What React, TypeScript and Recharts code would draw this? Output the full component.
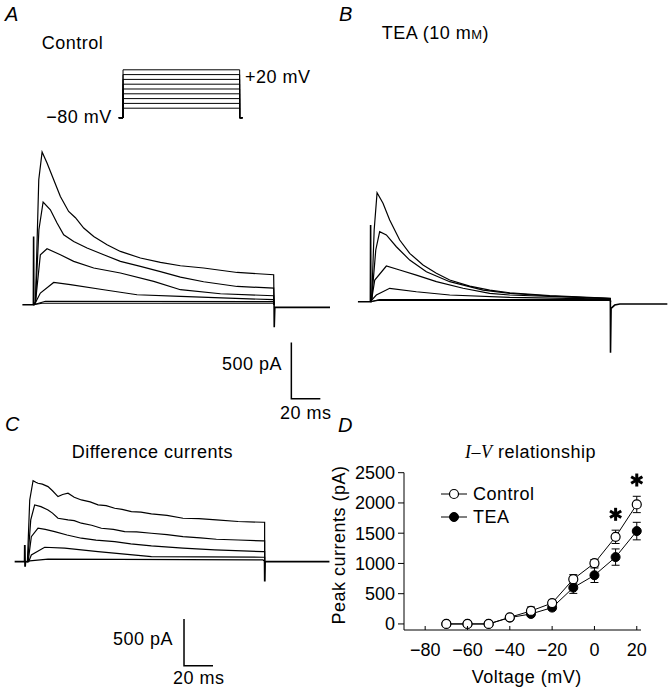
import React from 'react';
import { LineChart, Line, XAxis, YAxis, ErrorBar } from 'recharts';

const FONT = '"Liberation Sans", Arial, Helvetica, sans-serif';
const SERIF = '"Liberation Serif", "Times New Roman", serif';

// ---------- Panel A (Control) traces: [time ms, current pA] ----------
const aTrace1 = [[0,0],[1.4,18],[3.7,1116],[6.0,1363],[9.4,1265],[14.0,1116],[18.6,967],[24.3,833],[29.0,777],[34.7,685],[41.6,610],[50.8,536],[60.0,476],[73.8,417],[87.6,378],[101.4,348],[117.4,328],[140.5,288],[165.7,268],[166,0]];
const aTrace2 = [[0,0],[1.4,18],[3.8,670],[6.7,917],[11.7,848],[16.3,729],[20.9,625],[27.8,565],[37.0,506],[48.5,446],[60.0,387],[73.8,342],[87.6,295],[101.4,246],[117.4,205],[140.5,163],[165.7,149],[166,0]];
const aTrace3 = [[0,0],[1.4,18],[4.8,446],[9.4,500],[18.6,446],[27.8,387],[41.6,328],[60.0,283],[83.0,208],[101.4,134],[129.0,98],[165.7,80],[166,0]];
const aTrace4 = [[0,0],[1.4,18],[4.8,104],[14.0,199],[25.5,179],[48.5,134],[71.5,89],[101.4,74],[165.7,45],[166,0]];
const aTrace5 = [[0,0],[8.3,31],[165.7,27],[166,0]];
const aTrace6 = [[0,0],[6,13],[165.7,13],[166,0]];
const aPre = [[-7.6,0],[0,0],[0.15,610],[0.3,0],[1,0]];
const aPost = [[166,0],[166.1,-200],[166.5,-24],[204.8,-24]];
const aScaleBar = [[177.9,-337],[177.9,-839],[197.9,-839]];

// ---------- Voltage protocol (mV) ----------
const holdingMv = -80;
const stepLevelsMv = [-60,-50,-40,-30,-20,-10,0,10,20];
const stepStartMs = 0;
const stepEndMs = 166;

// ---------- Panel B (TEA) traces ----------
const bTrace1 = [[0,0],[0.9,24],[2.6,640],[4.6,973],[8.7,879],[13.3,729],[20.2,551],[27.1,432],[36.3,328],[45.5,254],[54.7,194],[68.5,140],[82.3,104],[96.1,80],[123.6,55],[165.5,30],[165.6,0]];
const bTrace2 = [[0,0],[0.9,24],[3.7,462],[6.4,625],[11.0,596],[17.9,491],[27.1,372],[38.6,268],[54.7,179],[77.7,104],[96.1,75],[123.6,51],[165.5,29],[165.6,0]];
const bTrace3 = [[0,0],[0.9,24],[3.0,194],[11.0,319],[20.2,283],[31.7,238],[45.5,179],[63.9,120],[82.3,75],[96.1,60],[165.5,27],[165.6,0]];
const bTrace4 = [[0,0],[0.9,15],[4.1,60],[13.3,120],[31.7,89],[54.7,60],[96.1,39],[165.5,24],[165.6,0]];
const bTrace5 = [[0,0],[6.4,20],[165.5,20],[165.6,0]];
const bTrace6 = [[0,0],[5,12],[165.5,12],[165.6,0]];
const bPre = [[-8.6,0],[0,0],[0.15,685],[0.3,0],[1,0]];
const bPost = [[165.5,0],[165.6,-455],[166,-60],[168.5,-30],[172,-20],[204.8,-20]];

// ---------- Panel C (difference currents) ----------
const cTrace1 = [[0,0],[0.7,0],[2.3,661],[4.6,868],[6.5,850],[8.0,840],[11,830],[14.9,804],[18,760],[21.8,697],[25,720],[28.7,733],[33,690],[37.9,661],[44,640],[49.4,608],[55,600],[60.9,572],[66,560],[72.4,536],[79,530],[86.2,511],[97,495],[108.0,465],[119,460],[131.0,447],[146,430],[163.2,422],[164.3,422],[164.3,0]];
const cTrace2 = [[0,0],[0.9,0],[3.0,447],[5.7,608],[10,590],[14.9,554],[18,520],[21.8,465],[28.7,447],[33,440],[37.9,412],[45,390],[51.7,358],[60,345],[67.8,322],[76,318],[86.2,304],[97,290],[108.0,268],[120,255],[131.0,240],[146,232],[163.2,222],[164.3,222],[164.3,0]];
const cTrace3 = [[0,0],[1.2,0],[3.4,268],[8.0,358],[13,345],[19.5,322],[28,285],[37.9,251],[48,230],[60.9,214],[72,190],[86.2,168],[108.0,144],[130,125],[163.2,107],[164.3,107],[164.3,0]];
const cTrace4 = [[0,0],[1.6,0],[3.4,72],[12.6,154],[26.4,144],[49.4,107],[86.2,54],[163.2,47],[164.3,47],[164.3,0]];
const cTrace5 = [[0,0],[2.3,8],[14.9,26],[163.2,18],[164.3,0]];
const cPre = [[-8.1,0],[-1.2,0],[-1.1,179],[-0.9,-54],[-0.7,0],[0,0]];
const cPost = [[164.3,0],[164.4,-214],[164.6,0],[209,0]];
const cScaleBar = [[108.7,-614],[108.7,-1115],[128.7,-1115]];

// ---------- Panel D (I-V relationship) ----------
const voltages = [-70,-60,-50,-40,-30,-20,-10,0,10,20];
const controlMean = [0,0,0,110,215,345,740,1005,1440,1975];
const controlSem = [15,15,15,30,65,45,75,60,110,135];
const teaMean = [0,0,0,105,165,270,600,805,1105,1535];
const teaSem = [15,15,15,30,40,40,95,120,135,145];
const starVoltages = [10,20];
const starLevels = [1812,2379];
const xTicksD = [-80,-60,-40,-20,0,20];
const yTicksD = [0,500,1000,1500,2000,2500];

const toRows = (pts: number[][]) => pts.map(([t, i]) => ({ t, i }));

type Series = { pts: number[][]; w: number };

function TraceChart({ left, top, width, height, xDomain, yDomain, series }: {
  left: number; top: number; width: number; height: number;
  xDomain: [number, number]; yDomain: [number, number]; series: Series[];
}) {
  return (
    <div style={{ position: 'absolute', left, top, width, height }}>
      <LineChart width={width} height={height} margin={{ top: 0, right: 0, bottom: 0, left: 0 }}>
        <XAxis type="number" dataKey="t" domain={xDomain} hide />
        <YAxis type="number" domain={yDomain} hide />
        {series.map((s, k) => (
          <Line key={k} data={toRows(s.pts)} dataKey="i" type="linear" stroke="#000"
            strokeWidth={s.w} dot={false} activeDot={false} isAnimationActive={false} />
        ))}
      </LineChart>
    </div>
  );
}

const protocolSeries: Series[] = stepLevelsMv.map((v) => ({
  pts: [[-6, holdingMv], [stepStartMs, holdingMv], [stepStartMs, v], [stepEndMs, v], [stepEndMs, holdingMv], [170, holdingMv]],
  w: 1,
}));

const XTick = (props: any) => {
  const { x, y, payload } = props;
  const label = String(payload.value).replace('-', '\u2212');
  return (
    <g>
      <line x1={x} x2={x} y1={y} y2={y - 4} stroke="#000" strokeWidth={1} />
      <text x={x} y={y + 26.4} textAnchor="middle" fontSize={18} fontFamily={FONT} fill="#000">{label}</text>
    </g>
  );
};

const renderStar = (p: any) => {
  const { cx, cy, index } = p;
  const L = 6.5;
  return (
    <g key={`star${index}`}>
      {[90, 30, -30].map((a) => {
        const r = (a * Math.PI) / 180;
        return (
          <line key={a} x1={cx - L * Math.cos(r)} y1={cy - L * Math.sin(r)}
            x2={cx + L * Math.cos(r)} y2={cy + L * Math.sin(r)} stroke="#000" strokeWidth={3} />
        );
      })}
    </g>
  );
};

function IVChart() {
  const rows = voltages.map((v, k) => ({
    v, control: controlMean[k], controlErr: controlSem[k], tea: teaMean[k], teaErr: teaSem[k],
  }));
  const stars = starVoltages.map((v, k) => ({ v, star: starLevels[k] }));
  return (
    <div style={{ position: 'absolute', left: 335, top: 440, width: 335, height: 255 }}>
      <LineChart width={335} height={255} data={rows} margin={{ top: 32.7, right: 29, bottom: 35, left: 0 }}>
        <XAxis type="number" dataKey="v" domain={[-90, 22]} ticks={xTicksD} tickLine={false}
          tickSize={0} tickMargin={0} tick={XTick} axisLine={{ stroke: '#000', strokeWidth: 1 }} height={30} />
        <YAxis type="number" domain={[-100, 2500]} ticks={yTicksD} tickSize={6} tickMargin={3} width={69}
          axisLine={{ stroke: '#000', strokeWidth: 1 }} tickLine={{ stroke: '#000', strokeWidth: 1 }}
          tick={{ fill: '#000', fontSize: 18, fontFamily: FONT }} />
        <Line dataKey="tea" stroke="none" dot={false} activeDot={false} isAnimationActive={false}>
          <ErrorBar dataKey="teaErr" width={4} stroke="#000" strokeWidth={1} direction="y" />
        </Line>
        <Line dataKey="control" stroke="none" dot={false} activeDot={false} isAnimationActive={false}>
          <ErrorBar dataKey="controlErr" width={4} stroke="#000" strokeWidth={1} direction="y" />
        </Line>
        <Line dataKey="tea" type="linear" stroke="#000" strokeWidth={1} activeDot={false} isAnimationActive={false}
          dot={{ r: 4.5, fill: '#000', stroke: '#000', strokeWidth: 1 }} />
        <Line dataKey="control" type="linear" stroke="#000" strokeWidth={1} activeDot={false} isAnimationActive={false}
          dot={{ r: 4.5, fill: '#fff', stroke: '#000', strokeWidth: 1.2 }} />
        <Line data={stars} dataKey="star" stroke="none" activeDot={false} isAnimationActive={false} dot={renderStar} />
      </LineChart>
    </div>
  );
}

export default function App() {
  const t = { fontFamily: FONT, fontSize: 18, fill: '#000', letterSpacing: 0.5 } as const;
  const letter = { fontFamily: FONT, fontSize: 20, fontStyle: 'italic' as const, fill: '#000' };
  return (
    <div style={{ position: 'absolute', left: 0, top: 0, width: 670, height: 695, background: '#fff', overflow: 'hidden' }}>
      {/* Panel A */}
      <TraceChart left={115.7} top={65.2} width={130.7} height={57.6} xDomain={[-10, 176]} yDomain={[-90, 30]} series={protocolSeries} />
      <TraceChart left={15.6} top={130.3} width={314.65} height={290.1} xDomain={[-12, 205]} yDomain={[-1030, 1560]}
        series={[
          { pts: aPre, w: 1.6 }, { pts: aPost, w: 1.6 },
          { pts: aTrace6, w: 1.2 }, { pts: aTrace5, w: 1.2 }, { pts: aTrace4, w: 1.2 },
          { pts: aTrace3, w: 1.2 }, { pts: aTrace2, w: 1.2 }, { pts: aTrace1, w: 1.2 },
          { pts: aScaleBar, w: 1.5 },
        ]} />
      {/* Panel B */}
      <TraceChart left={353.3} top={127} width={314.65} height={290.1} xDomain={[-12, 205]} yDomain={[-1030, 1560]}
        series={[
          { pts: bPre, w: 1.6 }, { pts: bPost, w: 1.6 },
          { pts: bTrace6, w: 1.2 }, { pts: bTrace5, w: 1.2 }, { pts: bTrace4, w: 1.2 },
          { pts: bTrace3, w: 1.2 }, { pts: bTrace2, w: 1.2 }, { pts: bTrace1, w: 1.2 },
        ]} />
      {/* Panel C */}
      <TraceChart left={9.3} top={459.1} width={320.45} height={214.6} xDomain={[-12, 209]} yDomain={[-1200, 1100]}
        series={[
          { pts: cPre, w: 1.8 }, { pts: cPost, w: 1.8 },
          { pts: cTrace5, w: 1.2 }, { pts: cTrace4, w: 1.2 }, { pts: cTrace3, w: 1.2 },
          { pts: cTrace2, w: 1.2 }, { pts: cTrace1, w: 1.2 },
          { pts: cScaleBar, w: 1.5 },
        ]} />
      {/* Panel D */}
      <IVChart />

      <svg width={670} height={695} style={{ position: 'absolute', left: 0, top: 0, pointerEvents: 'none' }}>
        <text x={5} y={21} {...letter}>A</text>
        <text x={339} y={21} {...letter}>B</text>
        <text x={5} y={431} {...letter}>C</text>
        <text x={338} y={432} {...letter}>D</text>

        <text x={41.7} y={49} {...t}>Control</text>
        <text x={245} y={83} {...t}>+20 mV</text>
        <text x={111.7} y={123} textAnchor="end" {...t}>{'\u221280 mV'}</text>
        <text x={282} y={369.5} textAnchor="end" {...t}>500 pA</text>
        <text x={280} y={419} {...t}>20 ms</text>

        <text x={381.7} y={38.7} {...t}>
          TEA (10 m<tspan fontSize={13}>M</tspan>)
        </text>

        <text x={71.7} y={458} {...t}>Difference currents</text>
        <text x={173} y={644.7} textAnchor="end" {...t}>500 pA</text>
        <text x={173} y={684} {...t}>20 ms</text>

        <text x={465} y={458} {...t}>
          <tspan fontFamily={SERIF} fontStyle="italic">I–V</tspan> relationship
        </text>

        <line x1={441} x2={467} y1={494} y2={494} stroke="#000" strokeWidth={1} />
        <circle cx={454} cy={494} r={4.5} fill="#fff" stroke="#000" strokeWidth={1.2} />
        <text x={473} y={500.4} {...t}>Control</text>
        <line x1={441} x2={467} y1={517} y2={517} stroke="#000" strokeWidth={1} />
        <circle cx={454} cy={517} r={4.5} fill="#000" stroke="#000" strokeWidth={1} />
        <text x={473} y={523.4} {...t}>TEA</text>

        <text x={526.7} y={683} textAnchor="middle" {...t}>Voltage (mV)</text>
        <text x={345.4} y={545} textAnchor="middle" transform="rotate(-90 345.4 545)" {...t}>Peak currents (pA)</text>
      </svg>
    </div>
  );
}
